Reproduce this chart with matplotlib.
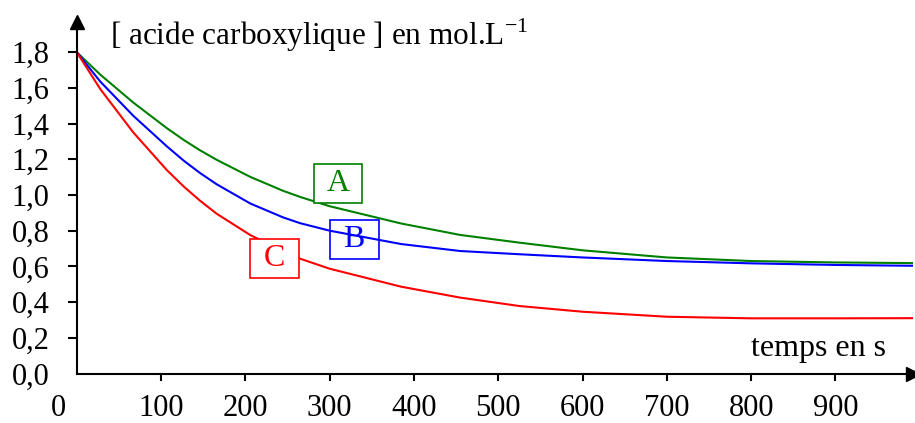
import matplotlib
matplotlib.use('Agg')
import matplotlib.pyplot as plt
from matplotlib.patches import Rectangle
from matplotlib.transforms import ScaledTranslation

plt.rcParams['font.family'] = ['Liberation Serif', 'DejaVu Serif']
plt.rcParams['mathtext.fontset'] = 'custom'
plt.rcParams['mathtext.rm'] = 'Liberation Serif'

# temps en s
t = [0, 28, 67, 107, 127, 146, 166, 206, 245, 265, 300, 385, 455, 525, 600, 700, 800, 900, 1000]
# concentrations en mol/L
conc_a = [1.80, 1.674, 1.518, 1.374, 1.308, 1.251, 1.197, 1.101, 1.023, 0.989, 0.937, 0.84,
          0.776, 0.733, 0.69, 0.65, 0.63, 0.622, 0.618]
conc_b = [1.80, 1.635, 1.444, 1.272, 1.192, 1.124, 1.06, 0.952, 0.874, 0.842, 0.80, 0.725,
          0.686, 0.668, 0.65, 0.63, 0.617, 0.608, 0.603]
conc_c = [1.80, 1.593, 1.351, 1.139, 1.047, 0.969, 0.895, 0.775, 0.685, 0.643, 0.587, 0.486,
          0.425, 0.378, 0.346, 0.318, 0.309, 0.309, 0.31]

x_ticks = [0, 100, 200, 300, 400, 500, 600, 700, 800, 900]
y_ticks = [0.0, 0.2, 0.4, 0.6, 0.8, 1.0, 1.2, 1.4, 1.6, 1.8]
y_labels = ['0,0', '0,2', '0,4', '0,6', '0,8', '1,0', '1,2', '1,4', '1,6', '1,8']

# etiquettes des courbes (centre de la boite)
labels = ['A', 'B', 'C']
label_t = [310, 329, 235]
label_c = [1.064, 0.748, 0.644]
colors = ['#008000', '#0000ff', '#ff0000']

fig = plt.figure(figsize=(9.15, 4.23), dpi=100)
ax = fig.add_axes([76.7 / 915, (423 - 373.5) / 423, (913 - 76.7) / 915, (373.5 - 22.5) / 423])

ax.plot(t, conc_a, color=colors[0], lw=1.5, zorder=2)
ax.plot(t, conc_b, color=colors[1], lw=1.5, zorder=2)
ax.plot(t, conc_c, color=colors[2], lw=1.5, zorder=2)

ax.set_xlim(0, 992)
ax.set_ylim(0, 1.966)

for s in ['top', 'right']:
    ax.spines[s].set_visible(False)
for s in ['left', 'bottom']:
    ax.spines[s].set_linewidth(1.5)

ax.set_xticks(x_ticks)
ax.set_xticklabels([str(v) for v in x_ticks])
ax.set_yticks(y_ticks)
ax.set_yticklabels(y_labels)
ax.tick_params(axis='x', direction='out', length=5, width=1.5, pad=10, labelsize=22)
ax.tick_params(axis='y', direction='out', length=6.5, width=1.5, pad=13, labelsize=22)
ax.xaxis.get_major_ticks()[0].tick1line.set_visible(False)
ax.yaxis.get_major_ticks()[0].tick1line.set_visible(False)
lab0 = ax.get_xticklabels()[0]
lab0.set_transform(lab0.get_transform() + ScaledTranslation(-0.18, 0, fig.dpi_scale_trans))

# fleches des axes
ax.plot(0, 1, marker='^', color='k', markersize=10, transform=ax.transAxes, clip_on=False)
ax.plot(1, 0, marker='>', color='k', markersize=10, transform=ax.transAxes, clip_on=False)

fig.text(110 / 915, 1 - 45 / 423, '[ acide carboxylique ] en mol.L$^{-1}$',
         fontsize=22.5, ha='left', va='baseline')
fig.text(886 / 915, 1 - 356 / 423, 'temps en s', fontsize=23, ha='right', va='baseline')

box_w = 58
box_h = 0.218
fills = ['white', 'none', 'white']
for lab, tx, cy, col, fc in zip(labels, label_t, label_c, colors, fills):
    ax.add_patch(Rectangle((tx - box_w / 2, cy - box_h / 2), box_w, box_h,
                           facecolor=fc, edgecolor=col, lw=1.2, zorder=3))
    ax.text(tx, cy, lab, color=col, fontsize=23, ha='center', va='center', zorder=4)

fig.savefig('out.png', dpi=100)
